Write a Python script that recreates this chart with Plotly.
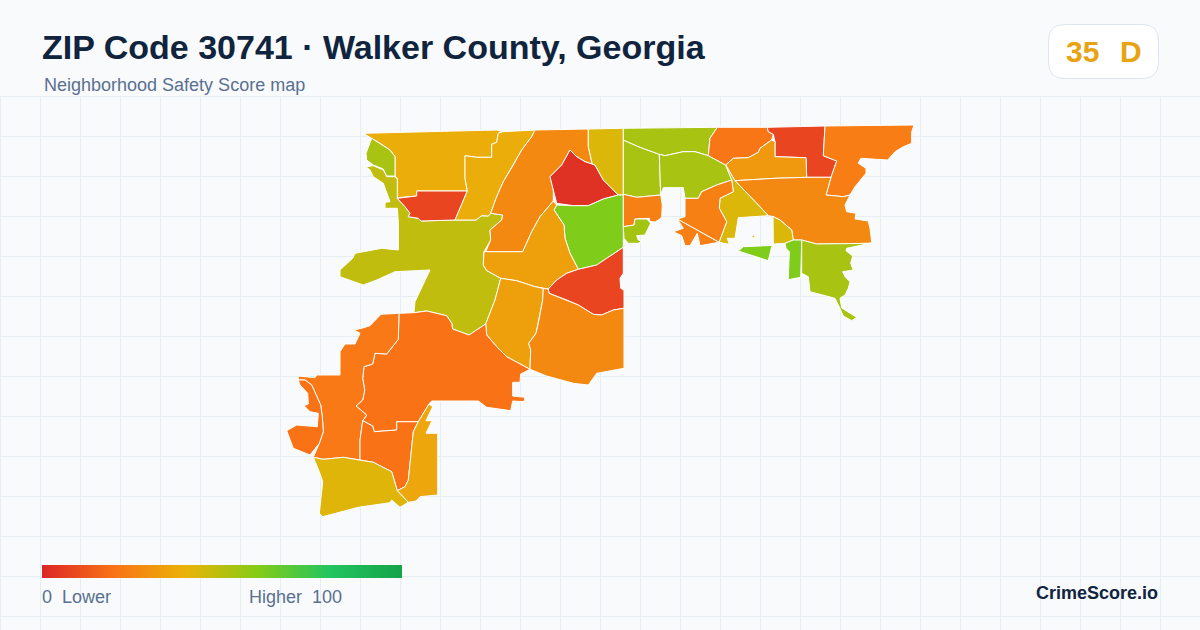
import plotly.graph_objects as go
from plotly.colors import sample_colorscale

TITLE = "ZIP Code 30741 · Walker County, Georgia"
SUBTITLE = "Neighborhood Safety Score map"
BADGE_SCORE = "35"
BADGE_GRADE = "D"
BRAND = "CrimeScore.io"
LEGEND_LOW = "0  Lower"
LEGEND_HIGH = "Higher  100"

# Six evenly spaced stops from score 0 to score 100
SCALE_COLORS = ["#dc2626", "#f97316", "#eab308", "#84cc16", "#22c55e", "#16a34a"]

# Tract outlines, map units; score per tract
NW_AMBER = [(363.3,133.3),(496.7,130),(502.7,131.7),(498.3,133.3),(496.7,142.3),(491.7,144.3),(491.7,157.3),(476.7,157.3),(465,155.7),(465,178.3),(467.3,191),(416.7,191),(416.7,196),(397.3,197.7),(397.3,178.3),(395,176),(395,156.7),(390,150),(380,143.3),(371.7,138.3)]
NW_LIME = [(371.7,138.3),(380,143.3),(390,150),(395,156.7),(395,176),(386.7,176),(383.3,169),(373.3,165),(366.7,160),(366,153.3),(369.3,145)]
WEST_OLIVE = [(366,166.7),(373.3,165.7),(383.3,170),(386.7,176.7),(395,176.7),(397.3,179),(397.3,198.3),(405,206.7),(410,213.3),(408.3,216.7),(418.3,218.3),(421,221),(455,220),(476,220),(481.7,215.7),(488.3,216),(490.7,213.3),(502.7,215),(501.7,220),(490,230),(490.7,240),(484,251.7),(483.3,265),(486.7,270.5),(500.7,278.3),(496.7,295),(495,300),(485.7,324),(469,335),(452.7,329),(451.7,323.3),(446.7,315.7),(426.7,311),(414,312.7),(415,301.7),(430,270),(395,271.7),(376.7,280),(363.3,285),(340,276.7),(340,270),(352.7,258.3),(355,253.3),(381.7,248.3),(398.3,250),(398.3,221.7),(397.3,208.3),(385,208.3),(385,202.3),(390,201.7),(385,186.7),(383.3,183.3),(373.3,176.7),(370,170)]
NW_RED = [(397.3,198.3),(416.7,196),(416.7,191),(467.3,191),(455,220),(421,221),(418.3,218.3),(408.3,216.7),(410,213.3),(405,206.7)]
N_AMBER = [(498.3,133.3),(502.7,131.7),(535,130),(531.7,136.7),(521.7,150),(513.3,165),(503.3,181.7),(496.7,196.7),(490.7,213.3),(488.3,216),(481.7,215.7),(476,220),(455,220),(467.3,191),(465,178.3),(465,155.7),(476.7,157.3),(491.7,157.3),(491.7,144.3),(496.7,142.3)]
N_ORANGE = [(535,130),(588.3,129),(588.3,146.7),(592.3,164.3),(585,161.7),(576.7,156.7),(570,150),(561.7,165),(550,176.7),(553.3,190),(553.3,201),(540,216.7),(531.7,231.7),(522.7,251.7),(485.7,251.7),(490.7,240),(490,230),(501.7,220),(502.7,215),(490.7,213.3),(496.7,196.7),(503.3,181.7),(513.3,165),(521.7,150),(531.7,136.7)]
N_RED = [(570,150),(576.7,156.7),(585,161.7),(595,165),(603.3,180),(618.3,195),(603.3,199),(588.3,205.7),(573.3,205.7),(556.7,203.3),(553.3,190),(550,176.7),(561.7,165)]
N_YELLOW = [(588.3,129),(623.3,128.3),(623.3,195),(618.3,195),(603.3,180),(595,165),(592.3,164.3),(588.3,146.7)]
MID_GREEN = [(554,210),(556.7,205),(573.3,205.7),(588.3,205.7),(603.3,199),(618.3,195),(623.3,195),(623.3,247.3),(606.7,258.3),(596.7,265),(578.3,269.3),(570,253.3),(565,238.3),(564,225)]
MID_AMBER = [(553.3,201),(556.7,205),(554,210),(564,225),(565,238.3),(570,253.3),(578.3,269.3),(566.7,273.3),(556.7,280),(548.3,289),(535,286.7),(516.7,280.7),(500.7,278.3),(486.7,270.5),(483.3,265),(484,251.7),(522.7,251.7),(531.7,231.7),(540,216.7)]
MID_RED = [(578.3,269.3),(596.7,265),(606.7,258.3),(623.3,247.3),(623.3,273.3),(620,278.3),(620.7,288.3),(624,290),(624,308.3),(613.3,310),(601.7,315),(593.3,314.3),(578.3,305),(566.7,300),(549,293.3),(548.3,289),(556.7,280),(566.7,273.3)]
S_AMBER = [(500.7,278.3),(516.7,280.7),(535,286.7),(543.3,288.5),(542.7,300),(538.3,323.3),(536,333.3),(528.7,343.3),(530.7,350),(530,369.3),(506.7,356.7),(496.7,346.7),(486.7,335),(485.7,324),(495,300)]
S_ORANGE = [(543.3,288.5),(548.3,289),(549,293.3),(566.7,300),(578.3,305),(593.3,314.3),(601.7,315),(613.3,310),(624,308.3),(624,368.3),(596.7,373.3),(588.3,385),(573.3,383.3),(546.7,376),(530,369.3),(530.7,350),(528.7,343.3),(536,333.3),(538.3,323.3),(542.7,300)]
SW_LARGE = [(399,313.3),(414,312.7),(426.7,311),(446.7,315.7),(451.7,323.3),(452.7,329),(469,335),(485.7,324),(486.7,335),(496.7,346.7),(506.7,356.7),(530,369.3),(520.7,374),(520,382.3),(512.7,382.3),(512.7,396),(525,397.3),(524,401.7),(512.7,401),(510.7,410.7),(486.7,407.3),(478.3,401),(431.7,401),(429,404),(418.3,421.7),(396.7,421.7),(396.7,430),(374.3,431.7),(372.7,426),(362.7,420.7),(366.7,415),(356,406),(362.7,400),(364.7,390),(362.7,378.3),(364,366.7),(372.7,364),(375,353.3),(386.7,354),(398.3,339.3)]
SW_WEST = [(381,314.3),(399,313.3),(398.3,339.3),(386.7,354),(375,353.3),(372.7,364),(364,366.7),(362.7,378.3),(364.7,390),(362.7,400),(356,406),(366.7,415),(362.7,420.7),(360,440),(360,460),(343.3,457.3),(323.3,459.3),(313.3,457.3),(319.3,443.3),(323.3,431.7),(322.3,416.7),(320.7,405),(311.7,385),(305,380),(298.3,380),(298.3,376),(315,377.7),(316.7,375),(340,375),(340,351.7),(345,344),(355,344),(360,333.3),(354,330),(361.7,328.3),(370,325.7)]
SW_RIVER = [(298.3,380),(305,380),(311.7,385),(320.7,405),(322.3,416.7),(323.3,431.7),(319.3,443.3),(310,455),(293.3,448.3),(286.7,430.7),(296.7,425),(317.3,426.7),(318.3,413.3),(310,411.7),(304,405.7),(308.3,404),(307.7,393.3),(300,385)]
SW_SOUTH = [(362.7,420.7),(372.7,426),(374.3,431.7),(396.7,430),(396.7,421.7),(418.3,421.7),(413.3,431.7),(408.3,480),(405,486.7),(397.3,490.7),(391.7,471.7),(373.3,462.3),(360,460),(360,440)]
S_EAST_AMBER = [(429,404),(432.7,406.7),(426,420.7),(432,420.7),(426,433.3),(437.7,433.3),(437.7,495),(420,496.7),(416,501),(408.3,502.3),(397.3,490.7),(405,486.7),(408.3,480),(413.3,431.7),(418.3,421.7)]
S_YELLOW = [(313.3,457.3),(323.3,459.3),(343.3,457.3),(360,460),(373.3,462.3),(391.7,471.7),(397.3,490.7),(408.3,502.3),(400,507.3),(391.7,500),(390,502.7),(358.3,507.3),(348.3,510),(340,512.7),(322.7,516.7),(319.3,513.3),(320.7,496.7),(322.7,481.7),(319.3,471.7)]
NE_LIME_A = [(623.3,140),(640,147.3),(659.3,154.3),(660.7,195),(636.7,197.3),(623.3,194.3)]
NE_LIME_B = [(623.3,128.3),(717.3,127.3),(710,138.3),(708.3,155.7),(695,151.7),(683.3,151.7),(665,155.7),(659.3,154.3),(640,147.3),(623.3,140)]
NE_LIME_C = [(659.3,154.3),(665,155.7),(683.3,151.7),(695,151.7),(708.3,155.7),(725.7,165),(731.7,180),(716.7,185),(701.7,191.7),(698.3,198.3),(685,198.3),(683.3,187.7),(663.3,187.7),(660.7,195)]
E_BOX_ORANGE = [(623.3,194.3),(636.7,197.3),(660.7,195),(662.3,205),(661.7,216.7),(660,219),(655,222),(650,221.5),(649.3,218.3),(635,219),(634,225),(623.3,226.7)]
E_SMALL_LIME = [(623.3,226.7),(634,225),(635,219),(646.7,219),(650.7,223.3),(645,235),(636.7,235.7),(638.3,240),(641.7,241),(638.3,243.3),(628.3,243.3),(624,238.3)]
NE_TOP_ORANGE = [(717.3,127.3),(767.3,127.3),(768.3,131.7),(773.3,134.3),(771.7,140),(760,148.3),(758.3,152.3),(748.3,157.7),(733.3,158.3),(725.7,165),(708.3,155.7),(710,138.3)]
NE_RED = [(767.3,127.3),(825,126),(823.3,155.7),(836.7,161),(831,177.3),(806.7,177.3),(806,157.7),(775,156.7),(775,141.7),(773.3,134.3),(768.3,131.7)]
NE_AMBER = [(775,141.7),(775,156.7),(806,157.7),(806.7,177.3),(775,178.3),(735,180.7),(725.7,165),(733.3,158.3),(748.3,157.7),(758.3,152.3),(760,148.3),(771.7,140)]
NE_FAR_ORANGE = [(825,126),(914,125),(911.7,131.7),(911.7,143.3),(903.3,146.7),(895,151.7),(887.7,160),(868.3,158.3),(860.7,158.3),(858.3,163.3),(866,168.3),(866,173.3),(860,180),(855,186.7),(850,195),(843.3,196.7),(826,195),(831,177.3),(836.7,161),(823.3,155.7)]
E_LARGE_ORANGE = [(735,180.7),(775,178.3),(806.7,177.3),(831,177.3),(826,195),(843.3,196.7),(850,195),(845,205),(846.7,211.7),(856,213.3),(855,219),(868.3,221),(870,228.3),(871.7,241.7),(870,243.3),(816.7,244),(801.7,240),(793.3,240),(791.7,230),(780,220),(773,216.5),(768.3,215.7),(756.7,203.3)]
E_YELLOW = [(725.7,165),(735,180.7),(756.7,203.3),(768.3,215.7),(738.3,217.7),(735,238.3),(727.3,238.3),(729.3,244.3),(719,242.3),(726.7,221.7),(719.3,208.3),(720,198.3),(733.3,191.7),(731.7,180)]
E_YELLOW_DOT = [(751,237.7),(753.3,235),(756,237.7)]
E_YELLOW_RIGHT = [(773,216.5),(780,220),(791.7,230),(793.3,240),(785,243.3),(773.3,244)]
E_MID_ORANGE = [(731.7,180),(733.3,191.7),(720,198.3),(719.3,208.3),(726.7,221.7),(719,242.3),(677.3,219),(685,216.7),(685,198.3),(698.3,198.3),(701.7,191.7),(716.7,185)]
E_LOW_ORANGE = [(677.3,219),(698,230.7),(719,242.3),(700,245.7),(697.3,233.3),(690,245.7),(685,245.7),(681.7,235.7),(673.3,231.7),(683.3,228.3)]
E_GREEN_WEDGE = [(738.3,251),(743.3,246.7),(781.7,245),(771.7,246.7),(768.3,260.7)]
E_GREEN_STRIP = [(785,243.3),(793.3,240),(801.7,240),(800.7,277.3),(788.3,279.7),(789.3,251.7),(786,248.3)]
SE_LIME = [(801.7,240),(816.7,244),(870,243.3),(846.7,248.3),(846,250.7),(852.7,256),(850.7,263.3),(853.3,270),(842.7,271.7),(845,276.7),(850,281.7),(848.3,288.3),(845,295),(840,298.3),(841.7,308),(856.7,317.3),(851.7,320.7),(843.3,316),(838.3,305),(835,298.3),(810,291.7),(808.3,276.7),(801.7,273.3)]

TRACTS = [NW_AMBER, NW_LIME, WEST_OLIVE, NW_RED, N_AMBER, N_ORANGE, N_RED, N_YELLOW, MID_GREEN, MID_AMBER, MID_RED,
          S_AMBER, S_ORANGE, SW_LARGE, SW_WEST, SW_RIVER, SW_SOUTH, S_EAST_AMBER, S_YELLOW, NE_LIME_A, NE_LIME_B,
          NE_LIME_C, E_BOX_ORANGE, E_SMALL_LIME, NE_TOP_ORANGE, NE_RED, NE_AMBER, NE_FAR_ORANGE, E_LARGE_ORANGE,
          E_YELLOW, E_YELLOW_DOT, E_YELLOW_RIGHT, E_MID_ORANGE, E_LOW_ORANGE, E_GREEN_WEDGE, E_GREEN_STRIP, SE_LIME]
SCORES = [38, 53, 48, 8, 38, 27, 3, 43, 61, 34, 8,
          34, 27, 20, 22, 20, 20, 36, 42, 53, 53,
          53, 24, 54, 21, 8, 32, 23, 27,
          43, 43, 43, 24, 24, 61, 61, 53]

INK = "#10243e"
MUTED = "#5a7090"
FONT = "Liberation Sans"
colorscale = [[i / (len(SCALE_COLORS) - 1), c] for i, c in enumerate(SCALE_COLORS)]

fig = go.Figure()
for outline, score in zip(TRACTS, SCORES):
    xs = [p[0] for p in outline] + [outline[0][0]]
    ys = [p[1] for p in outline] + [outline[0][1]]
    fill = sample_colorscale(colorscale, [score / 100], colortype="rgb")[0]
    fig.add_trace(go.Scatter(x=xs, y=ys, mode="lines", fill="toself", fillcolor=fill,
                             line=dict(color="#ffffff", width=1), text=f"Score {score}",
                             hoverinfo="text", showlegend=False))

# Gradient legend bar
fig.add_trace(go.Scatter(x=[None], y=[None], mode="markers", showlegend=False, hoverinfo="skip",
    marker=dict(color=[0, 100], cmin=0, cmax=100, colorscale=colorscale, showscale=True,
                colorbar=dict(orientation="h", lenmode="pixels", len=360, thicknessmode="pixels", thickness=13,
                              x=42/1200, xanchor="left", y=1-578/630, yanchor="bottom", xpad=0, ypad=0,
                              outlinewidth=0, ticks="", showticklabels=False))))

shapes = []
GRID = "#e7eef3"
for gx in range(0, 1200, 40):
    shapes.append(dict(type="line", x0=gx+0.5, x1=gx+0.5, y0=96, y1=630, line=dict(color=GRID, width=1), layer="below"))
for gy in range(96, 630, 40):
    shapes.append(dict(type="line", x0=0, x1=1200, y0=gy+0.5, y1=gy+0.5, line=dict(color=GRID, width=1), layer="below"))
shapes.append(dict(type="path", layer="above", fillcolor="#ffffff", line=dict(color="#dfe5ee", width=1),
    path="M 1064.5,24.5 L 1142.5,24.5 Q 1158.5,24.5 1158.5,40.5 L 1158.5,62.5 Q 1158.5,78.5 1142.5,78.5 "
         "L 1064.5,78.5 Q 1048.5,78.5 1048.5,62.5 L 1048.5,40.5 Q 1048.5,24.5 1064.5,24.5 Z"))

def note(x, y, text, size, color, bold=False, anchor="left"):
    return dict(x=x, y=y, xref="x", yref="y", text=f"<b>{text}</b>" if bold else text, showarrow=False,
                xanchor=anchor, yanchor="middle", font=dict(family=FONT, size=size, color=color))

annotations = [
    note(40, 47, TITLE, 34, INK, True),
    note(42, 85, SUBTITLE, 18, MUTED),
    note(1064, 51, BADGE_SCORE, 30, "#e8a312", True),
    note(1118, 51, BADGE_GRADE, 30, "#e8a312", True),
    note(40, 597, LEGEND_LOW, 18, MUTED),
    note(247, 597, LEGEND_HIGH, 18, MUTED),
    note(1160, 593, BRAND, 18, INK, True, "right"),
]

fig.update_layout(width=1200, height=630, margin=dict(l=0, r=0, t=0, b=0), autosize=False,
    paper_bgcolor="#f8fafc", plot_bgcolor="#f8fafc", shapes=shapes, annotations=annotations,
    xaxis=dict(range=[0, 1200], visible=False, fixedrange=True),
    yaxis=dict(range=[630, 0], visible=False, fixedrange=True),
    hovermode="closest")

fig.write_html("out.html", config={"displayModeBar": False},
               post_script="document.body.style.margin='0';document.body.style.overflow='hidden';")
